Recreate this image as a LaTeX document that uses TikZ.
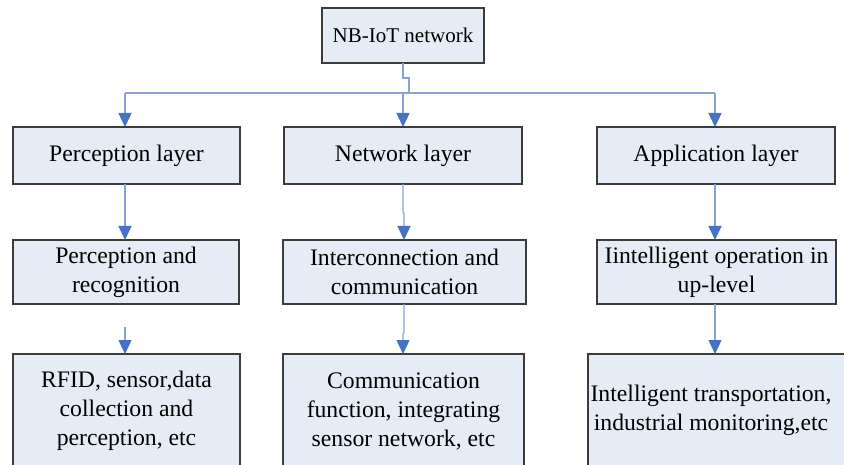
\documentclass[tikz,border=0pt]{standalone}
\usepackage{fontspec}
\setmainfont{Liberation Serif}
\usetikzlibrary{arrows.meta}
\definecolor{boxfill}{HTML}{E6ECF6}
\definecolor{boxline}{HTML}{3C3C3C}
\definecolor{wire}{HTML}{86A4D8}
\definecolor{tipblue}{HTML}{4472C4}
\tikzset{
  box/.style={draw=boxline, line width=1.2pt, fill=boxfill, rectangle,
    inner sep=0pt, outer sep=0pt, align=center,
    font=\fontsize{23.7}{29}\selectfont},
  txt/.style={inner sep=0pt, align=center, font=\fontsize{23.7}{29}\selectfont},
  wireline/.style={draw=wire, line width=1.3pt},
  arr/.style={wireline, -{Triangle[length=14pt,width=13pt,color=tipblue]}},
}
\begin{document}
\begin{tikzpicture}[x=1pt,y=-1pt]
\useasboundingbox (0,0) rectangle (844,465);
\clip (0,0) rectangle (844,465);

% top node
\node[box, minimum width=162pt, minimum height=55pt,
  font=\fontsize{21}{26}\selectfont] (top) at (403,35.5) {NB-IoT network};

% layer row
\node[box, minimum width=227pt, minimum height=57pt] (L1) at (126.5,155.5) {Perception layer};
\node[box, minimum width=238pt, minimum height=57pt] (N1) at (403,155.5) {Network layer};
\node[box, minimum width=238pt, minimum height=57pt] (A1) at (716,155.5) {Application layer};

% function row
\node[box, minimum width=226pt, minimum height=64pt] (L2) at (126,272) {Perception and\\recognition};
\node[box, minimum width=243pt, minimum height=64pt] (N2) at (404.5,272) {Interconnection and\\communication};
\node[box, minimum width=239pt, minimum height=64pt] (A2) at (716.5,272) {Iintelligent operation in\\up-level};

% detail row (runs past the lower edge)
\node[box, minimum width=227pt, minimum height=114pt] (L3) at (126.5,411)
  {RFID, sensor,data\\collection and\\perception, etc};
\node[box, minimum width=241pt, minimum height=114pt] (N3) at (403.5,411)
  {Communication\\function, integrating\\sensor network, etc};
\node[box, minimum width=262pt, minimum height=114pt] (A3) at (719,411) {};
\node[txt] (A3t) at (711,410) {Intelligent transportation,\\industrial monitoring,etc};

% bus from the top node
\coordinate (jogA) at (403,78);
\coordinate (jogB) at (409,78);
\coordinate (bus) at (409,93);
\coordinate (busL) at (125,93);
\coordinate (busM) at (403,93);
\coordinate (busR) at (715,93);
\coordinate (xn2) at (404,0);
\coordinate (xn3) at (403,0);
\draw[wireline] (top.south) -- (jogA) -- (jogB) -- (bus);
\draw[wireline] (busL) -- (busR);
\draw[arr] (busL) -- (busL |- L1.north);
\draw[arr] (busM) -- (busM |- N1.north);
\draw[arr] (busR) -- (busR |- A1.north);

% layer to function
\draw[arr] (L1.south -| busL) -- (busL |- L2.north);
\draw[arr] (N1.south) -- ++(0,28) -- ++(1,2) -- (xn2 |- N2.north);
\draw[arr] (A1.south -| busR) -- (busR |- A2.north);

% function to detail
\coordinate (Lstub) at (125,327);
\draw[arr] (Lstub) -- (Lstub |- L3.north);
\draw[arr] (xn2 |- N2.south) -- ++(0,28) -- ++(-1,2) -- (xn3 |- N3.north);
\draw[arr] (A2.south -| busR) -- (busR |- A3.north);
\end{tikzpicture}
\end{document}
